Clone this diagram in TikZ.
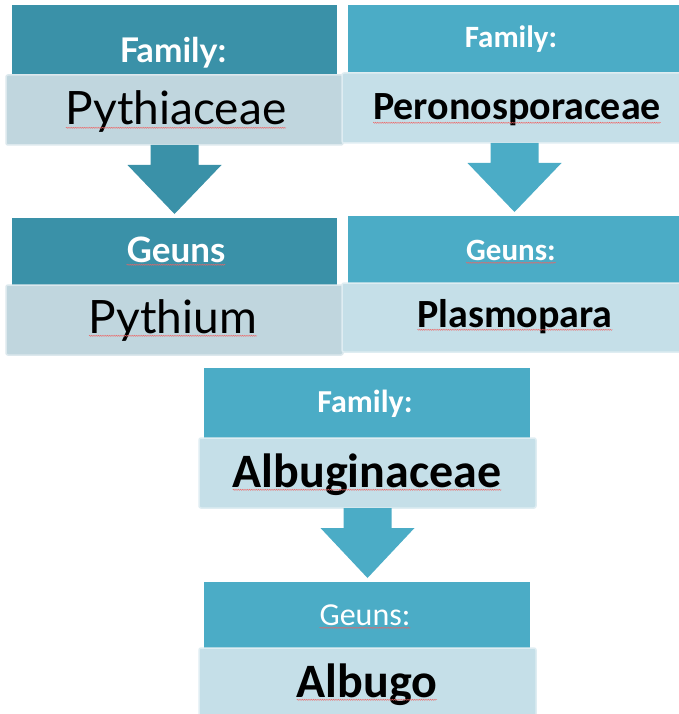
\documentclass[tikz,border=0pt]{standalone}
\usepackage{fontspec}
\setmainfont{Carlito}
\newfontfamily\gillish{Lato}
\newfontfamily\calib{Carlito}
\usetikzlibrary{calc,decorations.pathmorphing}

\definecolor{tealD}{RGB}{58,145,168}
\definecolor{tealL}{RGB}{75,172,198}
\definecolor{paleD}{RGB}{192,214,222}
\definecolor{paleL}{RGB}{197,223,232}
\definecolor{spellred}{RGB}{238,100,100}

\tikzset{
  hdrbox/.style={anchor=north west, inner sep=0pt, outer sep=0pt, fill=#1},
  palebox/.style={anchor=north west, inner sep=0pt, outer sep=0pt, fill=#1,
    draw=#1!55!white, line width=1.5pt, rounded corners=2pt},
  lbl/.style={anchor=base, inner sep=0pt, outer sep=0pt},
  spell/.style={draw=spellred, line width=0.35pt, decorate,
    decoration={snake, amplitude=0.6pt, segment length=1.8pt}},
}

% block arrow from the bottom of one box to the top of the next
\newcommand\blockarrow[3]{%
  \path let \p1=(#2.south), \p2=(#3.north) in
    [fill=#1] (\x1-24pt,\y1) -- (\x1-24pt,\y1-20pt) -- (\x1-47pt,\y1-20pt)
      -- (\x1,\y2+4pt) -- (\x1+47pt,\y1-20pt) -- (\x1+24pt,\y1-20pt)
      -- (\x1+24pt,\y1) -- cycle;}
% wavy spelling mark under a word
\newcommand\squig[1]{\draw[spell] ([yshift=-2.8pt]#1.base west) -- ([yshift=-2.8pt]#1.base east);}

\begin{document}
\begin{tikzpicture}[x=1pt,y=-1pt]
\useasboundingbox (0,0) rectangle (679,714);
\clip (0,0) rectangle (679,714);

% ---- Pythiaceae column ----
\node[hdrbox=tealD, minimum width=325pt, minimum height=70pt] (famPh) at (12,5) {};
\node[palebox=paleD, minimum width=337pt, minimum height=70pt] (famPb) at (6,75) {};
\node[hdrbox=tealD, minimum width=325pt, minimum height=67pt] (genPh) at (12,218) {};
\node[palebox=paleD, minimum width=337pt, minimum height=70pt] (genPb) at (6,285) {};
\blockarrow{tealD}{famPb}{genPh}

\node[lbl, text=white] (tFamP) at (173,63) {\gillish\bfseries\fontsize{34}{36}\selectfont Family:};
\node[lbl] (tPyth) at (176,125) {\gillish\fontsize{46}{50}\selectfont Pythiaceae};
\node[lbl, text=white] (tGenP) at (176,262) {\gillish\bfseries\fontsize{35}{36}\selectfont Geuns};
\node[lbl] (tPythium) at (173,333) {\gillish\fontsize{46}{50}\selectfont Pythium};
\squig{tPyth}\squig{tGenP}\squig{tPythium}

% ---- Peronosporaceae column ----
\node[hdrbox=tealL, minimum width=333pt, minimum height=68pt] (famRh) at (348,5) {};
\node[palebox=paleL, minimum width=345pt, minimum height=70pt] (famRb) at (342,73) {};
\node[hdrbox=tealL, minimum width=333pt, minimum height=67pt] (genRh) at (348,216) {};
\node[palebox=paleL, minimum width=345pt, minimum height=69pt] (genRb) at (342,283) {};
\blockarrow{tealL}{famRb}{genRh}

\node[lbl, text=white] (tFamR) at (511,48) {\calib\bfseries\fontsize{31}{36}\selectfont Family:};
\node[lbl] (tPero) at (517,120) {\calib\bfseries\fontsize{40}{44}\selectfont Peronosporaceae};
\node[lbl, text=white] (tGenR) at (511,260) {\calib\bfseries\fontsize{31}{36}\selectfont Geuns:};
\node[lbl] (tPlas) at (515,327) {\calib\bfseries\fontsize{40}{44}\selectfont Plasmopara};
\squig{tPero}\squig{tGenR}\squig{tPlas}

% ---- Albuginaceae column ----
\node[hdrbox=tealL, minimum width=326pt, minimum height=70pt] (famAh) at (204,368) {};
\node[palebox=paleL, minimum width=337pt, minimum height=70pt] (famAb) at (199,438) {};
\node[hdrbox=tealL, minimum width=326pt, minimum height=66pt] (genAh) at (204,582) {};
\node[palebox=paleL, minimum width=337pt, minimum height=74pt] (genAb) at (199,648) {};
\blockarrow{tealL}{famAb}{genAh}

\node[lbl, text=white] (tFamA) at (365,412) {\calib\bfseries\fontsize{32}{36}\selectfont Family:};
\node[lbl] (tAlbF) at (367,487) {\calib\bfseries\fontsize{48}{52}\selectfont Albuginaceae};
\node[lbl, text=white] (tGenA) at (365,625) {\calib\fontsize{32}{36}\selectfont Geuns:};
\node[lbl] (tAlb) at (367,697) {\calib\bfseries\fontsize{48}{52}\selectfont Albugo};
\squig{tAlbF}\squig{tGenA}\squig{tAlb}
\end{tikzpicture}
\end{document}
